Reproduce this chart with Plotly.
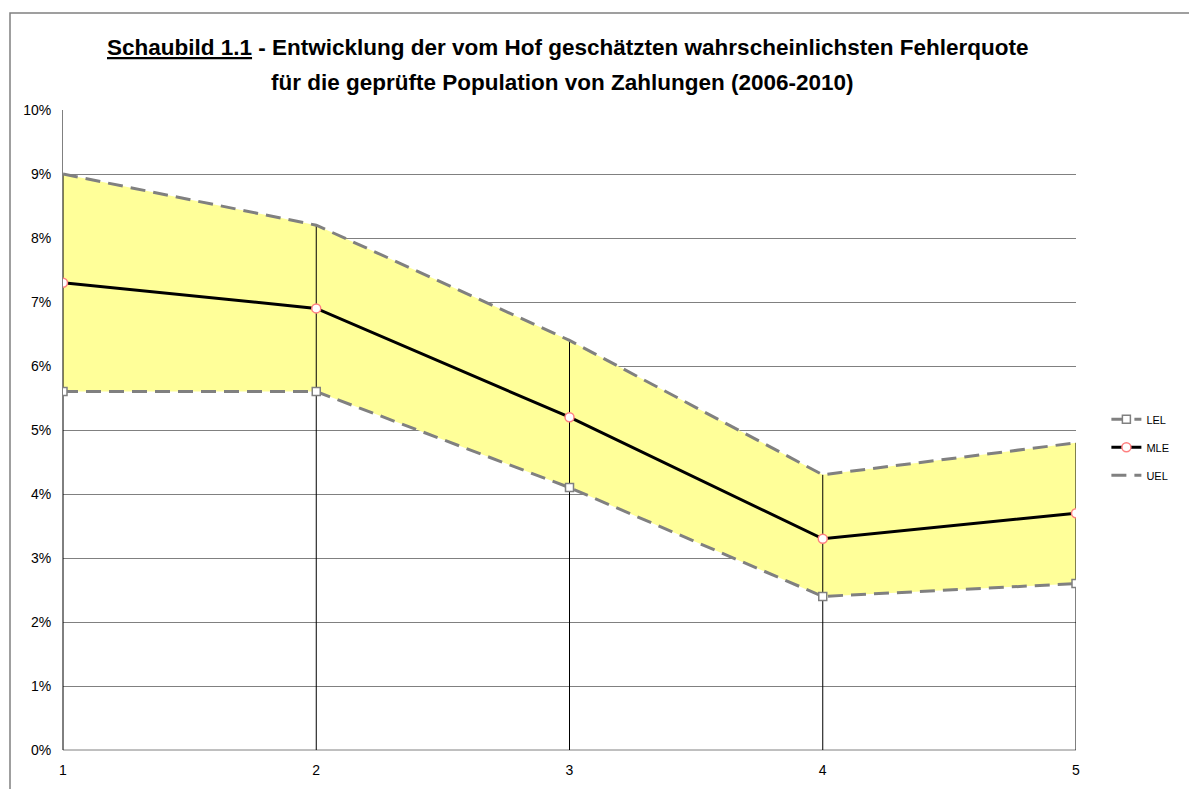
import plotly.graph_objects as go

# Data
x_vals = [1, 2, 3, 4, 5]
lel = [5.6, 5.6, 4.1, 2.4, 2.6]
mle = [7.3, 6.9, 5.2, 3.3, 3.7]
uel = [9.0, 8.2, 6.4, 4.3, 4.8]
y_ticks = [0, 1, 2, 3, 4, 5, 6, 7, 8, 9, 10]
y_tick_labels = [f"{v}%" for v in y_ticks]
series_names = ["LEL", "MLE", "UEL"]
title_line1 = "<b><u>Schaubild 1.1</u> - Entwicklung der vom Hof geschätzten wahrscheinlichsten Fehlerquote</b>"
title_line2 = "<b>für die geprüfte Population von Zahlungen (2006-2010)</b>"

GREY = "#808080"
FONT = "Liberation Sans, Arial, sans-serif"

fig = go.Figure()

# Band fill between LEL and UEL
fig.add_trace(go.Scatter(x=x_vals, y=lel, mode="lines", line=dict(width=0),
                         showlegend=False, hoverinfo="skip"))
fig.add_trace(go.Scatter(x=x_vals, y=uel, mode="lines", line=dict(width=0),
                         fill="tonexty", fillcolor="#FFFF99",
                         showlegend=False, hoverinfo="skip"))

# Drop lines
dx, dy = [], []
for xv, yv in zip(x_vals, uel):
    dx += [xv, xv, None]
    dy += [0, yv, None]
fig.add_trace(go.Scatter(x=dx, y=dy, mode="lines", line=dict(color="black", width=1),
                         showlegend=False, hoverinfo="skip"))

# Series lines
fig.add_trace(go.Scatter(x=x_vals, y=lel, name=series_names[0], mode="lines+markers",
                         legendgroup="a",
                         line=dict(color=GREY, width=3, dash="15px,8px"),
                         marker=dict(symbol="square", size=8, color="white",
                                     line=dict(color=GREY, width=1.5))))
fig.add_trace(go.Scatter(x=x_vals, y=mle, name=series_names[1], mode="lines+markers",
                         legendgroup="b",
                         line=dict(color="black", width=3),
                         marker=dict(symbol="circle", size=9, color="white",
                                     line=dict(color="#FF8080", width=1.5))))
fig.add_trace(go.Scatter(x=x_vals, y=uel, name=series_names[2], mode="lines",
                         legendgroup="c",
                         line=dict(color=GREY, width=3, dash="15px,8px")))

fig.update_layout(
    width=1189, height=781,
    margin=dict(l=55, r=121, t=102, b=39),
    paper_bgcolor="white", plot_bgcolor="white",
    font=dict(family=FONT, size=14, color="black"),
    xaxis=dict(range=[1, 5], tickvals=x_vals, ticktext=[str(v) for v in x_vals],
               showgrid=False, zeroline=False, showline=False, ticks="",
               ticklabelstandoff=10, fixedrange=True),
    yaxis=dict(range=[0, 10], tickvals=y_ticks, ticktext=y_tick_labels,
               showgrid=True, gridcolor=GREY, gridwidth=1, zeroline=False,
               showline=True, linecolor=GREY, linewidth=1, ticks="",
               ticklabelstandoff=8),
    legend=dict(x=1.03, y=0.473, xanchor="left", yanchor="middle",
                font=dict(size=11, family=FONT), bgcolor="rgba(0,0,0,0)",
                itemwidth=30, tracegroupgap=9, traceorder="grouped"),
    annotations=[
        dict(text=title_line1, xref="paper", yref="paper", x=0.4985, y=(750 - 48) / 640,
             xanchor="center", yanchor="middle", showarrow=False,
             font=dict(family=FONT, size=22.5, color="black")),
        dict(text=title_line2, xref="paper", yref="paper", x=0.4926, y=(750 - 83) / 640,
             xanchor="center", yanchor="middle", showarrow=False,
             font=dict(family=FONT, size=22.5, color="black")),
    ],
    shapes=[
        dict(type="line", xref="paper", yref="paper", x0=0, x1=1, y0=0, y1=0,
             line=dict(color=GREY, width=1), layer="below"),
        dict(type="rect", xref="paper", yref="paper",
             x0=-(63 - 10) / 1013, x1=1.3, y0=(750 - 800) / 640, y1=(750 - 13) / 640,
             line=dict(color=GREY, width=1.5), fillcolor="rgba(0,0,0,0)"),
    ],
)

fig.write_html("out.html")
